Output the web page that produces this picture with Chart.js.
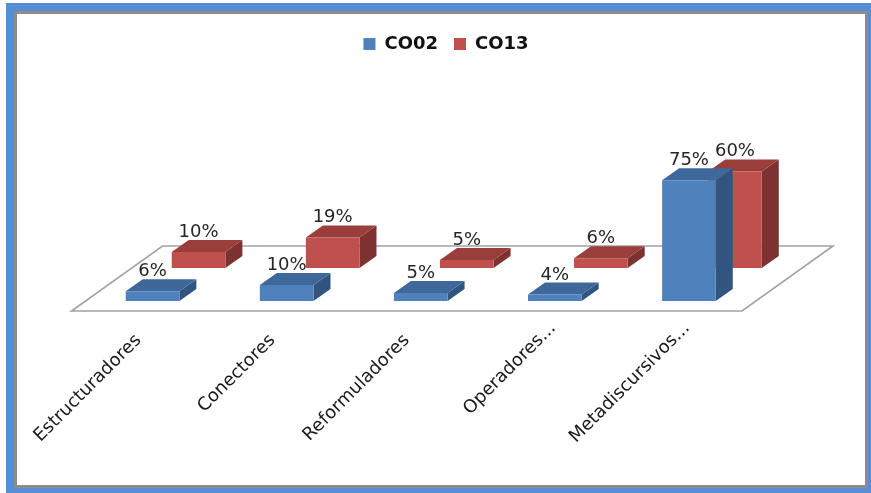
<!DOCTYPE html>
<html>
<head>
<meta charset="utf-8">
<script src="https://cdn.jsdelivr.net/npm/chart.js@4.4.1/dist/chart.umd.min.js"></script>
<style>
  html, body { margin: 0; padding: 0; background: #fff; }
  #frame { position: absolute; left: 6px; top: 3px; width: 865px; height: 490px; background: #558ED5; }
  #panel { position: absolute; left: 14px; top: 11px; width: 848px; height: 471px; background: #fff; border: 3px solid #8C8C8C; }
  #wrap { position: absolute; left: 0; top: 0; width: 871px; height: 493px; }
</style>
</head>
<body>
<div id="frame"></div>
<div id="panel"></div>
<div id="wrap"><canvas id="c" width="871" height="493"></canvas></div>
<script>
// Chart data
const categories = ['Estructuradores', 'Conectores', 'Reformuladores', 'Operadores...', 'Metadiscursivos...'];
const seriesNames = ['CO02', 'CO13'];
const co02 = [6, 10, 5, 4, 75];
const co13 = [10, 19, 5, 6, 60];

// Face colours for each series: front, top, side
const FACES = [
  { front: '#4F81BD', top: '#3D6899', side: '#31557F' },
  { front: '#C0504D', top: '#9A3E3B', side: '#7D3230' }
];
// Floor depth vector and each series' row position along it
const FLOOR_DEPTH = { dx: 91, dy: -65 };
const ROW_SHIFT = [ { dx: 14, dy: -10 }, { dx: 60, dy: -43 } ];
const BAR_DEPTH = { dx: 17, dy: -12 };
const FONT = "'DejaVu Sans', sans-serif";

Chart.defaults.font.family = FONT;

function poly(ctx, pts, fill) {
  ctx.beginPath();
  ctx.moveTo(pts[0][0], pts[0][1]);
  for (let i = 1; i < pts.length; i++) ctx.lineTo(pts[i][0], pts[i][1]);
  ctx.closePath();
  ctx.fillStyle = fill;
  ctx.fill();
}

// Draws the floor and each bar as a box with depth, using the bar elements
// laid out by the category and value scales.
const bars3d = {
  id: 'bars3d',
  beforeDraw(chart) {
    // Truncated labels hang their ellipsis past the tick
    const sx = chart.scales.x;
    const items = sx.getLabelItems(chart.chartArea);
    const ctx = chart.ctx;
    ctx.save();
    items.forEach(it => {
      const txt = Array.isArray(it.label) ? it.label[0] : it.label;
      if (typeof txt === 'string' && txt.endsWith('...') && !it._shifted) {
        ctx.font = it.font.string;
        const w = ctx.measureText('...').width;
        const r = it.options.rotation;
        it.options.translation[0] += w * Math.cos(r);
        it.options.translation[1] += w * Math.sin(r);
        it._shifted = true;
      }
    });
    ctx.restore();
  },
  beforeDatasetsDraw(chart) {
    const { ctx, chartArea: a } = chart;
    ctx.save();
    // floor
    const y0 = a.bottom;
    ctx.beginPath();
    ctx.moveTo(a.left, y0);
    ctx.lineTo(a.right, y0);
    ctx.lineTo(a.right + FLOOR_DEPTH.dx, y0 + FLOOR_DEPTH.dy);
    ctx.lineTo(a.left + FLOOR_DEPTH.dx, y0 + FLOOR_DEPTH.dy);
    ctx.closePath();
    ctx.fillStyle = '#fff';
    ctx.fill();
    ctx.strokeStyle = '#A3A3A3';
    ctx.lineWidth = 1.6;
    ctx.stroke();

    // back row first, then front row
    const labels = [];
    for (let di = chart.data.datasets.length - 1; di >= 0; di--) {
      const meta = chart.getDatasetMeta(di);
      const sh = ROW_SHIFT[di];
      const col = FACES[di];
      meta.data.forEach((el, i) => {
        const p = el.getProps(['x', 'y', 'base', 'width'], true);
        const x0 = p.x - p.width / 2 + sh.dx;
        const x1 = p.x + p.width / 2 + sh.dx;
        const top = p.y + sh.dy;
        const bot = p.base + sh.dy;
        const bx = BAR_DEPTH.dx, by = BAR_DEPTH.dy;
        poly(ctx, [[x1, top], [x1 + bx, top + by], [x1 + bx, bot + by], [x1, bot]], col.side);
        poly(ctx, [[x0, top], [x1, top], [x1 + bx, top + by], [x0 + bx, top + by]], col.top);
        poly(ctx, [[x0, top], [x1, top], [x1, bot], [x0, bot]], col.front);
        labels.push({ x: p.x + sh.dx, y: top, v: chart.data.datasets[di].data[i] });
      });
    }
    // value labels
    ctx.font = '18px ' + FONT;
    ctx.fillStyle = '#262626';
    ctx.textAlign = 'center';
    ctx.textBaseline = 'alphabetic';
    labels.forEach(l => ctx.fillText(l.v + '%', l.x, l.y - 15));
    ctx.restore();
    return false;
  }
};

new Chart(document.getElementById('c'), {
  type: 'bar',
  data: {
    labels: categories,
    datasets: [
      { label: seriesNames[0], data: co02, backgroundColor: FACES[0].front, borderWidth: 0 },
      { label: seriesNames[1], data: co13, backgroundColor: FACES[1].front, borderWidth: 0 }
    ]
  },
  options: {
    responsive: false,
    devicePixelRatio: 1,
    animation: false,
    events: [],
    layout: { padding: { left: 71.5, right: 50.5, top: 19, bottom: 0 } },
    datasets: { bar: { grouped: false, categoryPercentage: 1, barPercentage: 0.4 } },
    plugins: {
      legend: {
        position: 'top',
        labels: {
          boxWidth: 12, boxHeight: 12, padding: 16, color: '#111',
          font: { family: FONT, size: 18, weight: 'bold' }
        }
      },
      tooltip: { enabled: false }
    },
    scales: {
      x: {
        grid: { display: false, drawTicks: false },
        border: { display: false },
        ticks: {
          autoSkip: false, minRotation: 45, maxRotation: 45, padding: 19,
          color: '#1a1a1a', font: { family: FONT, size: 18 }
        },
        afterFit(s) { s.height = 182; s.paddingLeft = 0; s.paddingRight = 0; }
      },
      y: {
        position: 'right',
        min: 0, max: 154,
        grid: { display: false, drawTicks: false },
        border: { display: false },
        ticks: { display: false },
        afterFit(s) { s.width = 78.5; }
      }
    }
  },
  plugins: [bars3d]
});
</script>
</body>
</html>
